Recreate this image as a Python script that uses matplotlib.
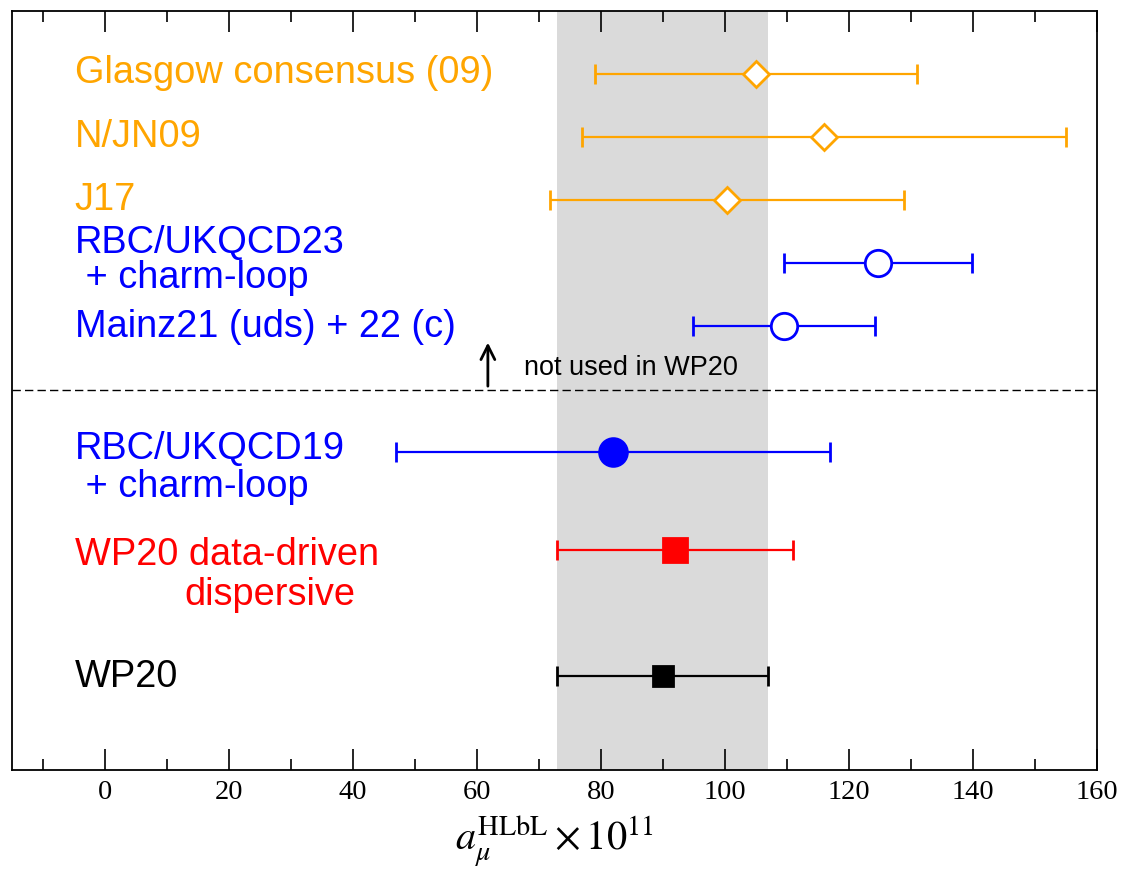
import matplotlib.pyplot as plt
from matplotlib.ticker import MultipleLocator

# results (value, error) in units of 1e-11
labels = ["Glasgow consensus (09)", "N/JN09", "J17", "RBC/UKQCD23", "Mainz21 (uds) + 22 (c)",
          "RBC/UKQCD19", "WP20 data-driven", "WP20"]
values = [105, 116, 100.4, 124.7, 109.6, 82, 92, 90]
errors = [26, 39, 28.5, 15.2, 14.7, 35, 19, 17]
rows = [1, 2, 3, 4, 5, 7, 8.55, 10.55]
colors = ["orange", "orange", "orange", "blue", "blue", "blue", "red", "black"]
markers = ["D", "D", "D", "o", "o", "o", "s", "s"]
filled = [False, False, False, False, False, True, True, True]
msizes = [13, 13, 13, 19, 19, 20, 17, 14.5]

# extra label lines: (text, x, row, color)
extra_lines = [(" + charm-loop", -4.85, 4.24, "blue"),
               (" + charm-loop", -4.85, 7.56, "blue"),
               ("dispersive", 12.8, 9.27, "red")]
label_rows = [0.98, 2.0, 3.0, 3.68, 5.02, 6.96, 8.64, 10.57]

wp20_band = (73, 107)

plt.rcParams["font.family"] = ["Liberation Sans", "DejaVu Sans"]
plt.rcParams["mathtext.fontset"] = "stix"

fig = plt.figure(figsize=(11.26, 8.76), dpi=100)
ax = fig.add_axes([0.0104, 0.121, 0.9636, 0.8664])

ax.axvspan(wp20_band[0], wp20_band[1], color="#dadada", zorder=0, lw=0)

for i in range(len(labels)):
    face = colors[i] if filled[i] else "white"
    ax.errorbar(values[i], rows[i], xerr=errors[i], fmt=markers[i], color=colors[i],
                mfc=face, mec=colors[i], ms=msizes[i], mew=2, elinewidth=1.6,
                capsize=7.5, capthick=1.6, zorder=3)
    ax.text(-4.85, label_rows[i], labels[i], color=colors[i], fontsize=27.4,
            ha="left", va="center")

for text, x, y, c in extra_lines:
    ax.text(x, y, text, color=c, fontsize=27.4, ha="left", va="center")

ax.axhline(6.02, color="black", lw=1, ls=(0, (6, 3)))
ax.annotate("", xy=(61.8, 5.22), xytext=(61.8, 6.0),
            arrowprops=dict(arrowstyle="->", color="black", lw=2, mutation_scale=25))
ax.text(67.6, 5.67, "not used in WP20", fontsize=19.5, ha="left", va="center")

ax.set_xlim(-15, 160)
ax.set_ylim(12.05, 0)
ax.xaxis.set_major_locator(MultipleLocator(20))
ax.xaxis.set_minor_locator(MultipleLocator(10))
ax.set_yticks([])
ax.tick_params(axis="x", which="both", direction="in", top=True, bottom=True, width=1.2)
ax.tick_params(axis="x", which="major", length=15, pad=7, labelsize=20.5)
ax.tick_params(axis="x", which="minor", length=8)
for lab in ax.get_xticklabels():
    lab.set_family("Liberation Serif")
for sp in ax.spines.values():
    sp.set_linewidth(1.3)

ax.set_xlabel(r"$a_\mu^{\mathrm{HLbL}} \times 10^{11}$", fontsize=29, labelpad=6)

fig.savefig("out.png", dpi=100)
